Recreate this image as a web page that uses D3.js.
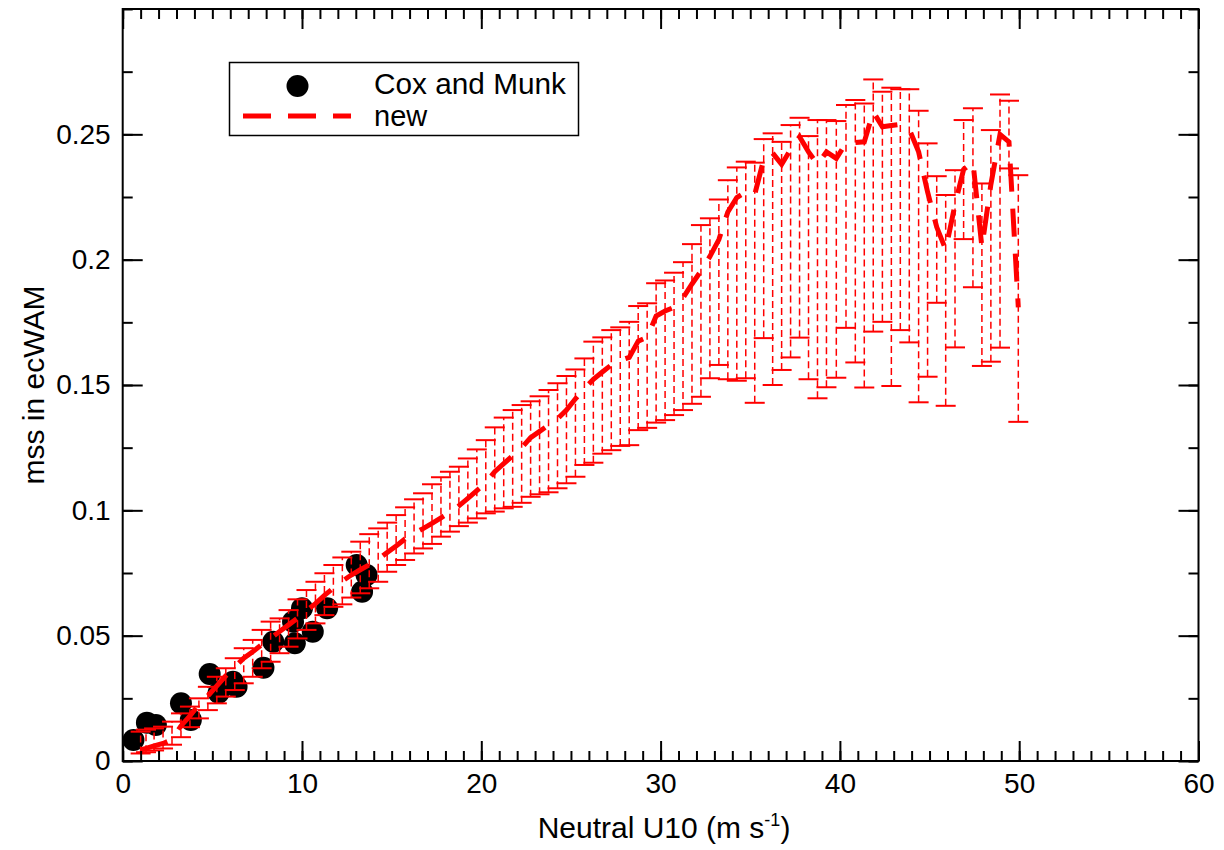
<!DOCTYPE html>
<html><head><meta charset="utf-8">
<script src="https://cdn.jsdelivr.net/npm/d3@7"></script>
<style>body{margin:0;background:#fff}svg{display:block}text{font-family:"Liberation Sans",Arial,Helvetica,sans-serif}</style>
</head><body><svg id="c" width="1224" height="850"></svg>
<script>
// ---- data ----
const coxU = [0.6, 1.35, 1.85, 3.25, 3.8, 4.85, 5.35, 6.15, 6.35, 7.85, 8.4, 9.5, 9.6, 10.0, 10.6, 11.4, 13.05, 13.35, 13.6];
const coxMss = [0.0084, 0.0153, 0.0144, 0.023, 0.0164, 0.0347, 0.0272, 0.0316, 0.0296, 0.0372, 0.0476, 0.0556, 0.047, 0.0609, 0.0516, 0.0609, 0.0782, 0.0675, 0.0742];

const newU = [1.0, 1.3, 1.75, 2.25, 2.75, 3.25, 3.75, 4.25, 4.75, 5.25, 5.75, 6.25, 6.75, 7.25, 7.75, 8.25, 8.75, 9.25, 9.75, 10.25,
  10.75, 11.25, 11.75, 12.25, 12.75, 13.25, 13.75, 14.25, 14.75, 15.25, 15.75, 16.25, 16.75, 17.25, 17.75, 18.25, 18.75, 19.25, 19.75, 20.25,
  20.75, 21.25, 21.75, 22.25, 22.75, 23.25, 23.75, 24.25, 24.75, 25.25, 25.75, 26.25, 26.75, 27.25, 27.75, 28.25, 28.75, 29.25, 29.75, 30.25,
  30.75, 31.25, 31.75, 32.25, 32.75, 33.25, 33.75, 34.25, 34.75, 35.25, 35.75, 36.25, 36.75, 37.25, 37.75, 38.25, 38.75, 39.25, 39.8, 40.34,
  40.86, 41.36, 41.86, 42.37, 42.87, 43.37, 43.87, 44.39, 44.89, 45.4, 45.9, 46.42, 46.9, 47.42, 47.92, 48.42, 48.93, 49.43, 49.95];
const newMss = [0.0044, 0.005, 0.006, 0.007, 0.0085, 0.014, 0.018, 0.0225, 0.026, 0.030,
  0.034, 0.0375, 0.041, 0.0436, 0.0464, 0.049, 0.0517, 0.0543, 0.057, 0.0599,
  0.0628, 0.0661, 0.069, 0.0718, 0.0742, 0.0763, 0.0783, 0.0805, 0.0832, 0.0858,
  0.0886, 0.0908, 0.0927, 0.0948, 0.097, 0.0993, 0.1018, 0.1048, 0.1079, 0.111,
  0.1154, 0.1186, 0.1218, 0.125, 0.129, 0.1315, 0.134, 0.1365, 0.140, 0.1445,
  0.1485, 0.1523, 0.1552, 0.158, 0.1598, 0.161, 0.1675, 0.169, 0.1775, 0.1795,
  0.181, 0.1848, 0.1903, 0.1955, 0.2013, 0.208, 0.219, 0.2248, 0.227, 0.226,
  0.240, 0.2425, 0.238, 0.244, 0.249, 0.243, 0.238, 0.243, 0.2404, 0.2465,
  0.2467, 0.247, 0.259, 0.253, 0.2535, 0.254, 0.252, 0.243, 0.227, 0.213,
  0.204, 0.222, 0.236, 0.239, 0.205, 0.230, 0.250, 0.247, 0.181];
const newUpper = [0.0117, 0.0125, 0.013, 0.0137, 0.0157, 0.019, 0.0217, 0.025, 0.0296, 0.0336,
  0.037, 0.041, 0.045, 0.0483, 0.0523, 0.0556, 0.0569, 0.0602, 0.0645, 0.0682,
  0.0715, 0.0749, 0.0782, 0.0812, 0.0835, 0.0875, 0.0905, 0.0928, 0.0951, 0.0981,
  0.1012, 0.1044, 0.1068, 0.1104, 0.1132, 0.1154, 0.1174, 0.1207, 0.1243, 0.128,
  0.1331, 0.137, 0.140, 0.142, 0.1435, 0.1455, 0.148, 0.1507, 0.1536, 0.1562,
  0.1606, 0.1673, 0.169, 0.1719, 0.173, 0.1752, 0.1815, 0.1826, 0.1906, 0.1917,
  0.1948, 0.199, 0.2062, 0.2138, 0.2165, 0.224, 0.2317, 0.2368, 0.2391, 0.2387,
  0.2481, 0.2504, 0.247, 0.2537, 0.2566, 0.2493, 0.2557, 0.2557, 0.2553, 0.2617,
  0.2637, 0.2623, 0.2719, 0.267, 0.2686, 0.268, 0.268, 0.2594, 0.2464, 0.2333,
  0.2258, 0.2357, 0.2557, 0.2604, 0.2304, 0.2517, 0.2659, 0.2634, 0.2337];
const newLower = [0.003, 0.0035, 0.0042, 0.005, 0.0065, 0.0095, 0.0135, 0.017, 0.0203, 0.023,
  0.0257, 0.0283, 0.031, 0.0336, 0.037, 0.0396, 0.043, 0.0456, 0.0489, 0.0523,
  0.0549, 0.0582, 0.0615, 0.0625, 0.0652, 0.0669, 0.0689, 0.0715, 0.0755, 0.0782,
  0.0802, 0.0828, 0.0848, 0.0866, 0.0895, 0.0915, 0.0937, 0.0951, 0.0968, 0.0988,
  0.0995, 0.1008, 0.1014, 0.103, 0.1054, 0.1064, 0.1072, 0.1088, 0.1108, 0.1134,
  0.1181, 0.119, 0.1226, 0.124, 0.1257, 0.126, 0.132, 0.1329, 0.135, 0.136,
  0.138, 0.140, 0.1425, 0.1453, 0.1527, 0.158, 0.1523, 0.1517, 0.1527, 0.1429,
  0.1687, 0.150, 0.156, 0.161, 0.1689, 0.1523, 0.1447, 0.1491, 0.1529, 0.1728,
  0.159, 0.149, 0.1713, 0.1752, 0.1496, 0.1719, 0.167, 0.1431, 0.1533, 0.1828,
  0.1417, 0.165, 0.2082, 0.189, 0.1576, 0.1593, 0.1649, 0.2364, 0.1353];

const xTicks = [0, 10, 20, 30, 40, 50, 60];
const xTickLabels = ["0", "10", "20", "30", "40", "50", "60"];
const yTicks = [0, 0.05, 0.1, 0.15, 0.2, 0.25];
const yTickLabels = ["0", "0.05", "0.1", "0.15", "0.2", "0.25"];
const seriesNames = ["Cox and Munk", "new"];

// ---- layout ----
const L = 122.7, R = 1198.5, T = 9, B = 761;
const FS = 28, FT = 30, FL = 29;
const svg = d3.select("#c");
const x = d3.scaleLinear().domain([0, 60]).range([L, R]);
const y = d3.scaleLinear().domain([0, 0.3]).range([B, T]);

// Cox and Munk points
svg.append("g").selectAll("circle").data(coxU).join("circle")
  .attr("cx", (d) => x(d)).attr("cy", (d, i) => y(coxMss[i])).attr("r", 11).attr("fill", "#000");

// error bars
const eb = svg.append("g").attr("stroke", "#ff0000");
const bars = newU.map((u, i) => ({u, m: newMss[i], hi: newUpper[i], lo: newLower[i]}));
eb.selectAll("line.v").data(bars).join("line").attr("class", "v")
  .attr("x1", d => x(d.u)).attr("x2", d => x(d.u))
  .attr("y1", d => y(d.lo)).attr("y2", d => y(d.hi))
  .attr("stroke-width", 1.5).attr("stroke-dasharray", "7,4");
eb.selectAll("line.ch").data(bars).join("line").attr("class", "ch")
  .attr("x1", d => x(d.u) - 10).attr("x2", d => x(d.u) + 10)
  .attr("y1", d => y(d.hi)).attr("y2", d => y(d.hi)).attr("stroke-width", 2);
eb.selectAll("line.cl").data(bars).join("line").attr("class", "cl")
  .attr("x1", d => x(d.u) - 10).attr("x2", d => x(d.u) + 10)
  .attr("y1", d => y(d.lo)).attr("y2", d => y(d.lo)).attr("stroke-width", 2);

// mean line
svg.append("path").datum(bars)
  .attr("d", d3.line().x(d => x(d.u)).y(d => y(d.m)))
  .attr("fill", "none").attr("stroke", "#ff0000").attr("stroke-width", 5)
  .attr("stroke-dasharray", "28,17").attr("stroke-linejoin", "miter");

// axes
function styleAxis(g) {
  g.select(".domain").remove();
  g.selectAll(".tick line").attr("stroke", "#000").attr("stroke-width", 2);
  g.selectAll(".tick text").attr("font-size", FS).attr("fill", "#000").attr("font-family", "Liberation Sans, Arial, sans-serif");
}
const xMinor = d3.range(0, 61, 1);
const yMinor = d3.range(0, 0.3001, 0.025);
svg.append("g").attr("transform", `translate(0,${B})`).call(d3.axisBottom(x).tickValues(xMinor).tickSize(-10).tickFormat("")).call(styleAxis);
svg.append("g").attr("transform", `translate(0,${T})`).call(d3.axisTop(x).tickValues(xMinor).tickSize(-10).tickFormat("")).call(styleAxis);
svg.append("g").attr("transform", `translate(${L},0)`).call(d3.axisLeft(y).tickValues(yMinor).tickSize(-10).tickFormat("")).call(styleAxis);
svg.append("g").attr("transform", `translate(${R},0)`).call(d3.axisRight(y).tickValues(yMinor).tickSize(-10).tickFormat("")).call(styleAxis);

svg.append("g").attr("transform", `translate(0,${B})`)
  .call(d3.axisBottom(x).tickValues(xTicks).tickSize(-20).tickPadding(12).tickFormat((d, i) => xTickLabels[i])).call(styleAxis);
svg.append("g").attr("transform", `translate(0,${T})`)
  .call(d3.axisTop(x).tickValues(xTicks).tickSize(-20).tickFormat("")).call(styleAxis);
svg.append("g").attr("transform", `translate(${L},0)`)
  .call(d3.axisLeft(y).tickValues(yTicks).tickSize(-20).tickPadding(12).tickFormat((d, i) => yTickLabels[i])).call(styleAxis);
svg.append("g").attr("transform", `translate(${R},0)`)
  .call(d3.axisRight(y).tickValues(yTicks).tickSize(-20).tickFormat("")).call(styleAxis);

// frame
svg.append("rect").attr("x", L).attr("y", T).attr("width", R - L).attr("height", B - T)
  .attr("fill", "none").attr("stroke", "#000").attr("stroke-width", 2);

// axis titles
const xt = svg.append("text").attr("x", 664).attr("y", 838).attr("text-anchor", "middle").attr("font-size", FT);
xt.append("tspan").text("Neutral U10 (m s");
xt.append("tspan").attr("font-size", FT * 0.6).attr("dy", -12).text("-1");
xt.append("tspan").attr("dy", 12).text(")");
svg.append("text").attr("transform", `translate(44,${(T + B) / 2}) rotate(-90)`)
  .attr("text-anchor", "middle").attr("font-size", FT).text("mss in ecWAM");

// legend
const lg = svg.append("g");
lg.append("rect").attr("x", 229.5).attr("y", 62.5).attr("width", 349).attr("height", 73)
  .attr("fill", "#fff").attr("stroke", "#000").attr("stroke-width", 1.5);
lg.append("circle").attr("cx", 297.5).attr("cy", 86).attr("r", 11).attr("fill", "#000");
lg.append("line").attr("x1", 243).attr("x2", 351).attr("y1", 116).attr("y2", 116)
  .attr("stroke", "#ff0000").attr("stroke-width", 5).attr("stroke-dasharray", "28,17");
lg.append("text").attr("x", 374).attr("y", 94).attr("font-size", FL)
  .attr("textLength", 192).attr("lengthAdjust", "spacingAndGlyphs").text(seriesNames[0]);
lg.append("text").attr("x", 374).attr("y", 126).attr("font-size", FL).text(seriesNames[1]);
</script></body></html>
